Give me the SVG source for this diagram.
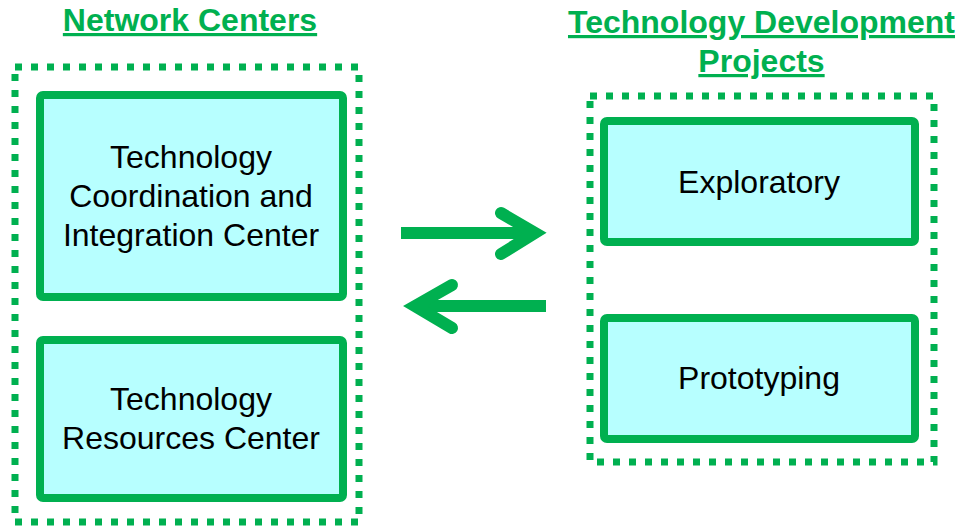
<svg xmlns="http://www.w3.org/2000/svg" width="959" height="526" viewBox="0 0 959 526">
<style>
.title{font-family:"Liberation Sans",Arial,sans-serif;font-weight:bold;font-size:32px;fill:#00B050;text-anchor:middle;text-decoration:underline}
.lbl{font-family:"Liberation Sans",Arial,sans-serif;font-size:32px;fill:#000;text-anchor:middle}
.group{fill:none;stroke:#00B050;stroke-width:7;stroke-dasharray:7 9}
.box{fill:#B7FFFF;stroke:#00B050;stroke-width:8}
.arr{fill:none;stroke:#00B050;stroke-width:12;stroke-linecap:round;stroke-linejoin:miter}
</style>
<g id="network-centers">
<text class="title" x="190" y="31">Network Centers</text>
<rect class="group" x="15" y="67" width="344" height="455"/>
</g>
<g id="tech-dev-projects">
<text class="title" x="761.5" y="33">Technology Development</text>
<text class="title" x="761.5" y="72">Projects</text>
<rect class="group" x="590" y="96" width="344" height="366"/>
</g>
<g id="tcic">
<rect class="box" x="40" y="95" width="303" height="202" rx="3"/>
<text class="lbl" x="191" y="168">Technology</text>
<text class="lbl" x="191" y="207">Coordination and</text>
<text class="lbl" x="191" y="246">Integration Center</text>
</g>
<g id="trc">
<rect class="box" x="40" y="340" width="303" height="158" rx="3"/>
<text class="lbl" x="191" y="410">Technology</text>
<text class="lbl" x="191" y="449">Resources Center</text>
</g>
<g id="exploratory">
<rect class="box" x="604" y="121" width="311" height="121" rx="3"/>
<text class="lbl" x="759" y="193">Exploratory</text>
</g>
<g id="prototyping">
<rect class="box" x="604" y="318" width="311" height="121" rx="3"/>
<text class="lbl" x="759" y="389">Prototyping</text>
</g>
<g id="connectors">
<path class="arr" d="M401 233 H532" style="stroke-linecap:butt"/>
<path class="arr" d="M501 213 L535 233 L501 254"/>
<path class="arr" d="M546 306 H418" style="stroke-linecap:butt"/>
<path class="arr" d="M452 285 L415 306 L452 328"/>
</g>
</svg>
